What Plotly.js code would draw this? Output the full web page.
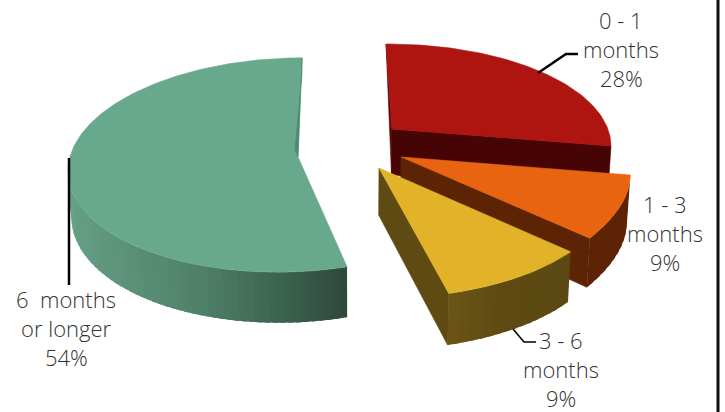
<!DOCTYPE html>
<html>
<head>
<meta charset="utf-8">
<script src="https://cdn.plot.ly/plotly-3.0.1.min.js"></script>
<style>html,body{margin:0;padding:0;background:#fff}#c{width:725px;height:412px}</style>
</head>
<body>
<div id="c"></div>
<script>
// Data
const categories = ['0 - 1 months', '1 - 3 months', '3 - 6 months', '6 months or longer'];
const percentValues = [28, 9, 9, 54];
const labelLines = [['0 - 1', 'months', '28%'], ['1 - 3', 'months', '9%'], ['3 - 6', 'months', '9%'], ['6  months', 'or longer', '54%']];

// Styling and projection of each exploded slice
const topColors = ['#AE1410', '#E86410', '#E2B328', '#68A88C'];
const cutColors = ['#470404', '#5C2404', '#5F4A12', '#4F8A70'];
const wallStops = [
  [[71, 4, 4], [71, 4, 4]],
  [[92, 36, 4], [92, 36, 4]],
  [[92, 72, 18], [94, 74, 18], [107, 85, 22]],
  [[46, 74, 60], [78, 127, 104], [101, 160, 134]]
];
const views = [
  {ax: 392, ay: 129, ox: -4, oy: 17, rx: 223, ry: 102, sh: 0, px: 0, py: 0, ty: 0, dS: -0.5, dE: -10.8, d: 46},
  {ax: 401, ay: 157, ox: 0, oy: 0, rx: 225, ry: 90, sh: 0, px: 0.192, py: 0.352, ty: 0, dS: 0, dE: 0, d: 46},
  {ax: 379, ay: 168, ox: 0, oy: 0, rx: 228, ry: 108, sh: 0, px: 0.194, py: 0.172, ty: 0, dS: 0, dE: 0, d: 47},
  {ax: 298, ay: 157, ox: -8, oy: 8, rx: 222, ry: 107, sh: 0, px: 0, py: 0, ty: -6, dS: -0.5, dE: 3.1, d: 46}
];
const leaders = [
  {x: [538, 566, 578], y: [73, 54, 54], w: 2.5},
  {x: [513, 524, 536], y: [329, 342, 342], w: 1.6},
  {x: [69, 69], y: [158, 285], w: 2.5}
];
const labelCenters = [[621, [20, 49, 78]], [665, [204, 233, 262]], [561, [340, 369, 398]], [66, [299, 328, 357]]];
const CX = 350;

const total = percentValues.reduce((a, b) => a + b, 0);
let acc = 0;
const spans = percentValues.map(v => { const s = acc; acc += v / total * 360; return [s, acc]; });
spans.forEach((s, i) => { views[i].a = s[0]; views[i].b = s[1]; });

function drop(g, X, Y, v, z) {
  return [X - z * (X - CX) * 0.012, Y + z * g.d * (1 - 0.1 * v)];
}
function rim(g, deg, z) {
  const t = (deg - g.a) / (g.b - g.a);
  const r = (deg + g.dS + (g.dE - g.dS) * t) * Math.PI / 180;
  const u = Math.sin(r), v = Math.cos(r);
  const X = g.ax + g.ox + (g.rx * u + g.sh * v) / (1 + g.px * v);
  const Y = g.ay + g.oy - g.ry * v / (1 + g.py * v) + g.ty * u;
  return drop(g, X, Y, v, z);
}
const apex = (g, z) => drop(g, g.ax, g.ay, 0, z);

function lerp(stops, t) {
  t = Math.max(0, Math.min(1, t));
  const s = t * (stops.length - 1), i = Math.min(Math.floor(s), stops.length - 2), f = s - i;
  const c = stops[i].map((c0, k) => Math.round(c0 + (stops[i + 1][k] - c0) * f));
  return `rgb(${c[0]},${c[1]},${c[2]})`;
}
function poly(pts, color, lw) {
  return {
    type: 'scatter', mode: 'lines', fill: 'toself', fillcolor: color,
    x: pts.map(p => p[0]).concat(pts[0][0]), y: pts.map(p => p[1]).concat(pts[0][1]),
    line: {color: color, width: lw === undefined ? 0.6 : lw, shape: 'linear'},
    hoverinfo: 'skip', showlegend: false
  };
}
const traces = [];

function walls(i, from, to, step) {
  const g = views[i];
  const xs = rim(g, from, 0)[0], xe = rim(g, to, 0)[0];
  for (let d = from; d < to - 1e-6; d += step) {
    const e = Math.min(d + step * 1.6, to);
    const t = (rim(g, d, 0)[0] - xs) / (xe - xs);
    traces.push(poly([rim(g, d, 0), rim(g, e, 0), rim(g, e, 1), rim(g, d, 1)], lerp(wallStops[i], t), 0));
  }
}
function topFace(i) {
  const g = views[i], [a, b] = spans[i], pts = [apex(g, 0)];
  for (let d = a; d < b; d += 1) pts.push(rim(g, d, 0));
  pts.push(rim(g, b, 0));
  traces.push(poly(pts, topColors[i]));
}
// Red: left sliver + front cut face + top
(function () {
  const i = 0, g = views[i], [a, b] = spans[i];
  traces.push(poly([rim(g, a, 0), apex(g, 0), apex(g, 1)], '#5E0707'));
  traces.push(poly([apex(g, 0), rim(g, b, 0), rim(g, b, 1), apex(g, 1)], cutColors[i]));
  topFace(i);
})();
// Orange
(function () {
  const i = 1, g = views[i], [a, b] = spans[i];
  walls(i, a, b, 3);
  traces.push(poly([apex(g, 0), rim(g, b, 0), rim(g, b, 1), apex(g, 1)], cutColors[i]));
  topFace(i);
})();
// Yellow
(function () {
  const i = 2, g = views[i], [a, b] = spans[i];
  traces.push(poly([apex(g, 0), rim(g, b, 0), rim(g, b, 1), apex(g, 1)], cutColors[i]));
  walls(i, a, b, 2);
  topFace(i);
})();
// Green
(function () {
  const i = 3, g = views[i], [a, b] = spans[i];
  walls(3, a, 272, 2);
  topFace(i);
  const A = apex(g, 0), T = rim(g, b, 0);
  traces.push(poly([T, A, [A[0] - 3, A[1] - 7], [T[0], T[1] + 16]], cutColors[i]));
})();
// Leader lines
leaders.forEach(l => traces.push({
  type: 'scatter', mode: 'lines', x: l.x, y: l.y,
  line: {color: '#000', width: l.w}, hoverinfo: 'skip', showlegend: false
}));

const annotations = [];
labelLines.forEach((lines, i) => lines.forEach((txt, j) => annotations.push({
  x: labelCenters[i][0], y: labelCenters[i][1][j], xref: 'x', yref: 'y',
  text: txt.replace(/  /g, '&nbsp; '), showarrow: false, xanchor: 'center', yanchor: 'middle',
  font: {family: '"Open Sans", sans-serif', size: 22, color: '#333333', weight: 300}
})));

const layout = {
  width: 725, height: 412, margin: {l: 0, r: 0, t: 0, b: 0},
  paper_bgcolor: '#fff', plot_bgcolor: '#fff', showlegend: false,
  xaxis: {range: [0, 725], visible: false, fixedrange: true},
  yaxis: {range: [412, 0], visible: false, fixedrange: true},
  annotations: annotations,
  shapes: [{type: 'line', xref: 'x', yref: 'y', x0: 718, x1: 718, y0: 0, y1: 412, line: {color: '#111', width: 3}}]
};
Plotly.newPlot('c', traces, layout, {displayModeBar: false, staticPlot: true});
</script>
</body>
</html>
